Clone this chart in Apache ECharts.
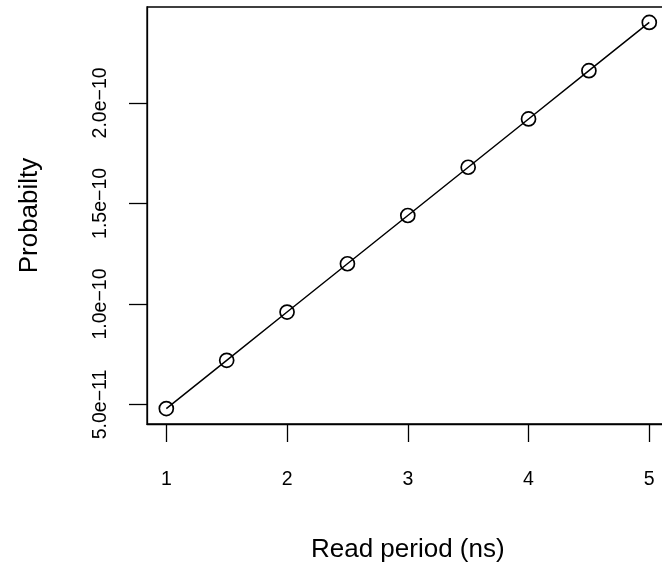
<!DOCTYPE html>
<html>
<head>
<meta charset="utf-8">
<script src="https://cdn.jsdelivr.net/npm/echarts@6/dist/echarts.min.js"></script>
<style>
  html, body { margin: 0; padding: 0; background: #fff; }
  #myChart { width: 662px; height: 566px; }
</style>
</head>
<body>
<div id="myChart"></div>
<script>
// read period (ns) and probability values
var periods = [1, 1.5, 2, 2.5, 3, 3.5, 4, 4.5, 5];
var probs = [4.8e-11, 7.2e-11, 9.6e-11, 1.2e-10, 1.44e-10, 1.68e-10, 1.92e-10, 2.16e-10, 2.4e-10];
// tick labels
var xTicks = [1, 2, 3, 4, 5];
var yTicks = [5e-11, 1e-10, 1.5e-10, 2e-10];
var yTickLabels = ['5.0e\u221211', '1.0e\u221210', '1.5e\u221210', '2.0e\u221210'];

var font = 'Liberation Sans, Arial, Helvetica, sans-serif';

var myChart = echarts.init(document.getElementById('myChart'));

var option = {
    animation: false,
    backgroundColor: '#fff',
    grid: {
        show: true,
        left: 147,
        top: 7,
        width: 521.6,
        height: 417,
        outerBoundsMode: 'none',
        containLabel: false,
        borderColor: '#000',
        borderWidth: 1.3,
        backgroundColor: 'transparent'
    },
    xAxis: {
        type: 'value',
        min: 0.84,
        max: 5.16,
        name: 'Read period (ns)',
        nameLocation: 'middle',
        nameGap: 113,
        nameTextStyle: { fontFamily: font, fontSize: 26, color: '#000' },
        axisLine: { show: true, lineStyle: { color: '#000', width: 1.3 } },
        axisTick: { show: true, length: 18, lineStyle: { color: '#000', width: 1.3 }, customValues: xTicks },
        axisLabel: {
            fontFamily: font, fontSize: 19.5, color: '#000', margin: 46,
            customValues: xTicks
        },
        splitLine: { show: false }
    },
    yAxis: {
        type: 'value',
        min: 4.032e-11,
        max: 2.4768e-10,
        name: 'Probabilty',
        nameLocation: 'middle',
        nameGap: 104,
        nameTextStyle: { fontFamily: font, fontSize: 26, color: '#000' },
        axisLine: { show: true, lineStyle: { color: '#000', width: 1.3 } },
        axisTick: { show: true, length: 18, lineStyle: { color: '#000', width: 1.3 }, customValues: yTicks },
        axisLabel: {
            rotate: 90,
            fontFamily: font, fontSize: 19.5, color: '#000', margin: 36,
            customValues: yTicks,
            formatter: function (v) {
                for (var i = 0; i < yTicks.length; i++) {
                    if (Math.abs(yTicks[i] - v) < 1e-15) return yTickLabels[i];
                }
                return '';
            }
        },
        splitLine: { show: false }
    },
    series: [{
        type: 'line',
        data: periods.map(function (p, i) { return [p, probs[i]]; }),
        symbol: 'circle',
        symbolSize: 14,
        showAllSymbol: true,
        lineStyle: { color: '#000', width: 1.5 },
        itemStyle: { color: 'rgba(0,0,0,0)', borderColor: '#000', borderWidth: 1.7 }
    }]
};
myChart.setOption(option);
</script>
</body>
</html>
